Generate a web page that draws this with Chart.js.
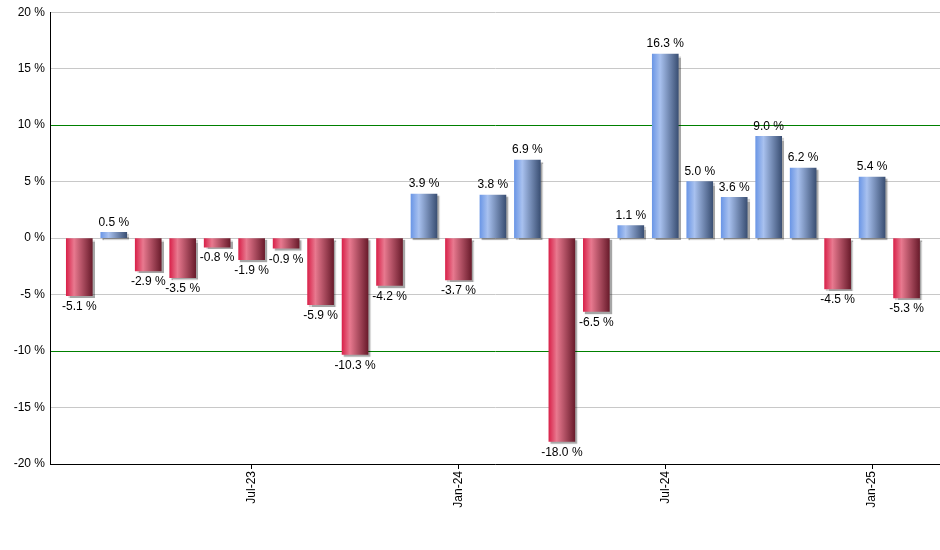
<!DOCTYPE html>
<html lang="en">
<head>
    <meta charset="UTF-8">
    <title>Monthly returns</title>
    <script src="https://cdn.jsdelivr.net/npm/chart.js"></script>
    <style>
        body { margin: 0; background: #fff; }
    </style>
</head>
<body>
    <canvas id="returnsChart" width="940" height="550"></canvas>
    <script>
        const months = ['Feb-23', 'Mar-23', 'Apr-23', 'May-23', 'Jun-23', 'Jul-23', 'Aug-23', 'Sep-23', 'Oct-23',
            'Nov-23', 'Dec-23', 'Jan-24', 'Feb-24', 'Mar-24', 'Apr-24', 'May-24', 'Jun-24', 'Jul-24', 'Aug-24',
            'Sep-24', 'Oct-24', 'Nov-24', 'Dec-24', 'Jan-25', 'Feb-25'];
        const returns = [-5.1, 0.5, -2.9, -3.5, -0.8, -1.9, -0.9, -5.9, -10.3, -4.2, 3.9, -3.7, 3.8, 6.9,
            -18.0, -6.5, 1.1, 16.3, 5.0, 3.6, 9.0, 6.2, -4.5, 5.4, -5.3];
        const tickMonths = ['Jul-23', 'Jan-24', 'Jul-24', 'Jan-25'];

        const points = months.map((m, i) => ({ x: i, y: returns[i] }));

        // horizontal "cylinder" shading for each bar
        function barFill(context) {
            const chart = context.chart;
            const up = context.raw && context.raw.y >= 0;
            if (!chart.chartArea || !chart.scales.x) return up ? '#6f9ae8' : '#d92850';
            const cx = chart.scales.x.getPixelForValue(context.raw.x);
            const g = chart.ctx.createLinearGradient(cx - 13, 0, cx + 13, 0);
            if (up) {
                g.addColorStop(0, '#6c97e6');
                g.addColorStop(0.3, '#a8c1ef');
                g.addColorStop(1, '#3b5074');
            } else {
                g.addColorStop(0, '#d9234b');
                g.addColorStop(0.3, '#e8798f');
                g.addColorStop(1, '#6a1c2c');
            }
            return g;
        }

        const barShadow = {
            id: 'barShadow',
            beforeDatasetDraw(chart) {
                const ctx = chart.ctx;
                ctx.save();
                ctx.shadowColor = 'rgba(0,0,0,0.35)';
                ctx.shadowOffsetX = 2;
                ctx.shadowOffsetY = 2;
                ctx.shadowBlur = 1;
            },
            afterDatasetDraw(chart) {
                chart.ctx.restore();
            }
        };

        const valueLabels = {
            id: 'valueLabels',
            afterDatasetsDraw(chart) {
                const ctx = chart.ctx;
                const meta = chart.getDatasetMeta(0);
                ctx.save();
                ctx.font = '12px "Liberation Sans", Arial, sans-serif';
                ctx.fillStyle = '#000';
                ctx.textAlign = 'center';
                meta.data.forEach((bar, i) => {
                    const v = returns[i];
                    const text = v.toFixed(1) + ' %';
                    if (v >= 0) {
                        ctx.textBaseline = 'bottom';
                        ctx.fillText(text, bar.x, bar.y - 4);
                    } else {
                        ctx.textBaseline = 'top';
                        ctx.fillText(text, bar.x, bar.y + 5);
                    }
                });
                ctx.restore();
            }
        };

        Chart.defaults.font.family = '"Liberation Sans", Arial, sans-serif';
        Chart.defaults.font.size = 12;
        Chart.defaults.color = '#000';

        new Chart(document.getElementById('returnsChart'), {
            type: 'bar',
            data: {
                datasets: [{
                    data: points,
                    backgroundColor: barFill,
                    borderWidth: 0,
                    barThickness: 26
                }]
            },
            options: {
                responsive: false,
                animation: false,
                layout: { padding: { top: 9, right: 0, left: 0, bottom: 0 } },
                plugins: {
                    legend: { display: false },
                    tooltip: { enabled: false }
                },
                scales: {
                    x: {
                        type: 'linear',
                        offset: false,
                        min: -0.85,
                        max: 24.97,
                        afterBuildTicks: scale => {
                            scale.ticks = tickMonths.map(m => ({ value: months.indexOf(m) }));
                        },
                        afterFit: scale => { scale.height = 86; },
                        ticks: {
                            minRotation: 90,
                            maxRotation: 90,
                            padding: 2,
                            callback: value => months[value]
                        },
                        grid: {
                            offset: false,
                            drawOnChartArea: false,
                            drawTicks: true,
                            tickLength: 5,
                            color: '#000'
                        },
                        border: { color: '#000', width: 1 }
                    },
                    y: {
                        min: -20,
                        max: 20,
                        afterFit: scale => { scale.width = 50; },
                        ticks: {
                            stepSize: 5,
                            padding: 5,
                            callback: value => value + ' %'
                        },
                        grid: {
                            drawTicks: false,
                            color: c => (c.tick && Math.abs(c.tick.value) === 10) ? '#008000' : '#c8c8c8'
                        },
                        border: { color: '#000', width: 1 }
                    }
                }
            },
            plugins: [barShadow, valueLabels]
        });
    </script>
</body>
</html>
